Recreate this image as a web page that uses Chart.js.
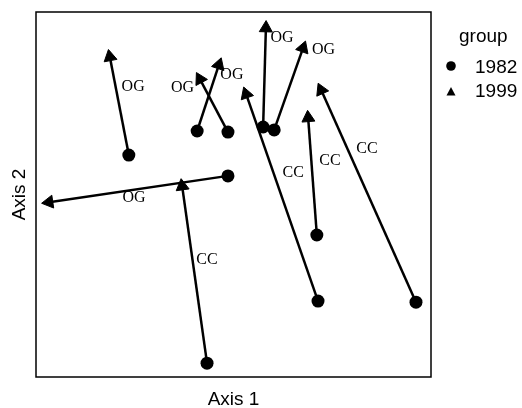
<!DOCTYPE html>
<html>
<head>
<meta charset="utf-8">
<script src="https://cdn.jsdelivr.net/npm/chart.js@4/dist/chart.umd.min.js"></script>
<style>
  html, body { margin: 0; padding: 0; background: #fff; }
  #wrap { width: 522px; height: 408px; }
</style>
</head>
<body>
<div id="wrap"><canvas id="ord"></canvas></div>
<script>
// ordination scores, one entry per site (arrow goes 1982 -> 1999)
const groups = ["OG", "OG", "OG", "OG", "CC", "OG", "OG", "CC", "CC", "CC"];
const x1982 = [23.5, 40.8, 48.6, 48.6, 43.3, 57.5, 60.3, 71.4, 71.1, 96.2];
const y1982 = [60.8, 67.4, 67.1, 55.1, 3.8, 68.5, 67.7, 20.8, 38.9, 20.5];
const x1999 = [18.7, 46.3, 41.5, 3.3, 37.0, 58.2, 67.6, 53.2, 68.9, 72.2];
const y1999 = [87.7, 85.5, 81.6, 47.9, 52.3, 95.6, 90.1, 77.5, 71.0, 78.6];
// where each group label sits (axis units)
const labelX = [24.6, 49.6, 37.1, 24.8, 43.3, 62.3, 72.8, 65.1, 74.4, 83.8];
const labelY = [79.5, 82.7, 79.3, 49.0, 32.1, 92.9, 89.7, 55.9, 59.3, 62.6];
const legendTitle = "group";
const years = ["1982", "1999"];

const sans = "'Liberation Sans', Arial, sans-serif";
const serif = "'Liberation Serif', 'Times New Roman', serif";

const datasets = [];

datasets.push({
    label: years[0],
    data: x1982.map((x, i) => ({ x: x, y: y1982[i] })),
    pointStyle: "circle",
    pointRadius: 6.5,
    backgroundColor: "#000",
    borderColor: "#000",
    borderWidth: 0,
    showLine: false,
    order: 1
});

datasets.push({
    label: years[1],
    data: x1999.map((x, i) => ({ x: x, y: y1999[i] })),
    pointStyle: "triangle",
    pointRadius: 7.5,
    backgroundColor: "#000",
    borderColor: "#000",
    borderWidth: 1,
    showLine: false,
    order: 0,
    // point the arrowhead along the segment
    rotation: function (ctx) {
        const i = ctx.dataIndex;
        const sx = ctx.chart.scales.x, sy = ctx.chart.scales.y;
        if (!sx || !sy || i === undefined) return 0;
        const dx = sx.getPixelForValue(x1999[i]) - sx.getPixelForValue(x1982[i]);
        const dy = sy.getPixelForValue(y1999[i]) - sy.getPixelForValue(y1982[i]);
        return Math.atan2(dx, -dy) * 180 / Math.PI;
    }
});

for (let i = 0; i < x1982.length; i++) {
    datasets.push({
        label: "arrow" + i,
        data: [{ x: x1982[i], y: y1982[i] }, { x: x1999[i], y: y1999[i] }],
        showLine: true,
        pointRadius: 0,
        borderColor: "#000",
        borderWidth: 2.5,
        order: 2
    });
}

const extras = {
    id: "extras",
    afterDatasetsDraw(chart) {
        const ctx = chart.ctx;
        const sx = chart.scales.x, sy = chart.scales.y;
        const a = chart.chartArea;
        ctx.save();
        // frame
        ctx.strokeStyle = "#000";
        ctx.lineWidth = 1.5;
        ctx.strokeRect(a.left, a.top, a.right - a.left, a.bottom - a.top);

        // group labels
        ctx.fillStyle = "#000";
        ctx.font = "16px " + serif;
        ctx.textAlign = "center";
        ctx.textBaseline = "middle";
        groups.forEach((g, i) => {
            ctx.fillText(g, sx.getPixelForValue(labelX[i]), sy.getPixelForValue(labelY[i]));
        });

        // legend
        const lx = a.right + 20;
        ctx.font = "19px " + sans;
        ctx.textAlign = "left";
        ctx.textBaseline = "alphabetic";
        ctx.fillText(legendTitle, lx + 8, 42);
        ctx.fillText(years[0], lx + 24, 73);
        ctx.fillText(years[1], lx + 24, 97);
        ctx.beginPath();
        ctx.arc(lx, 66, 4.8, 0, Math.PI * 2);
        ctx.fill();
        ctx.beginPath();
        ctx.moveTo(lx, 87);
        ctx.lineTo(lx + 4.5, 95.5);
        ctx.lineTo(lx - 4.5, 95.5);
        ctx.closePath();
        ctx.fill();
        ctx.restore();
    }
};

new Chart(document.getElementById("ord"), {
    type: "scatter",
    data: { datasets: datasets },
    options: {
        responsive: true,
        maintainAspectRatio: false,
        animation: false,
        events: [],
        layout: { padding: { left: 6, top: 12, right: 91, bottom: 0 } },
        plugins: {
            legend: { display: false },
            tooltip: { enabled: false }
        },
        scales: {
            x: {
                min: 0,
                max: 100,
                ticks: { display: false },
                grid: { display: false, drawTicks: false },
                border: { display: false },
                title: {
                    display: true,
                    text: "Axis 1",
                    color: "#000",
                    font: { family: sans, size: 19, lineHeight: 0.8 },
                    padding: { top: 14.9, bottom: 0.9 }
                }
            },
            y: {
                min: 0,
                max: 100,
                ticks: { display: false },
                grid: { display: false, drawTicks: false },
                border: { display: false },
                title: {
                    display: true,
                    text: "Axis 2",
                    color: "#000",
                    font: { family: sans, size: 19 },
                    padding: { top: 2, bottom: 5.2 }
                }
            }
        }
    },
    plugins: [extras]
});
</script>
</body>
</html>
